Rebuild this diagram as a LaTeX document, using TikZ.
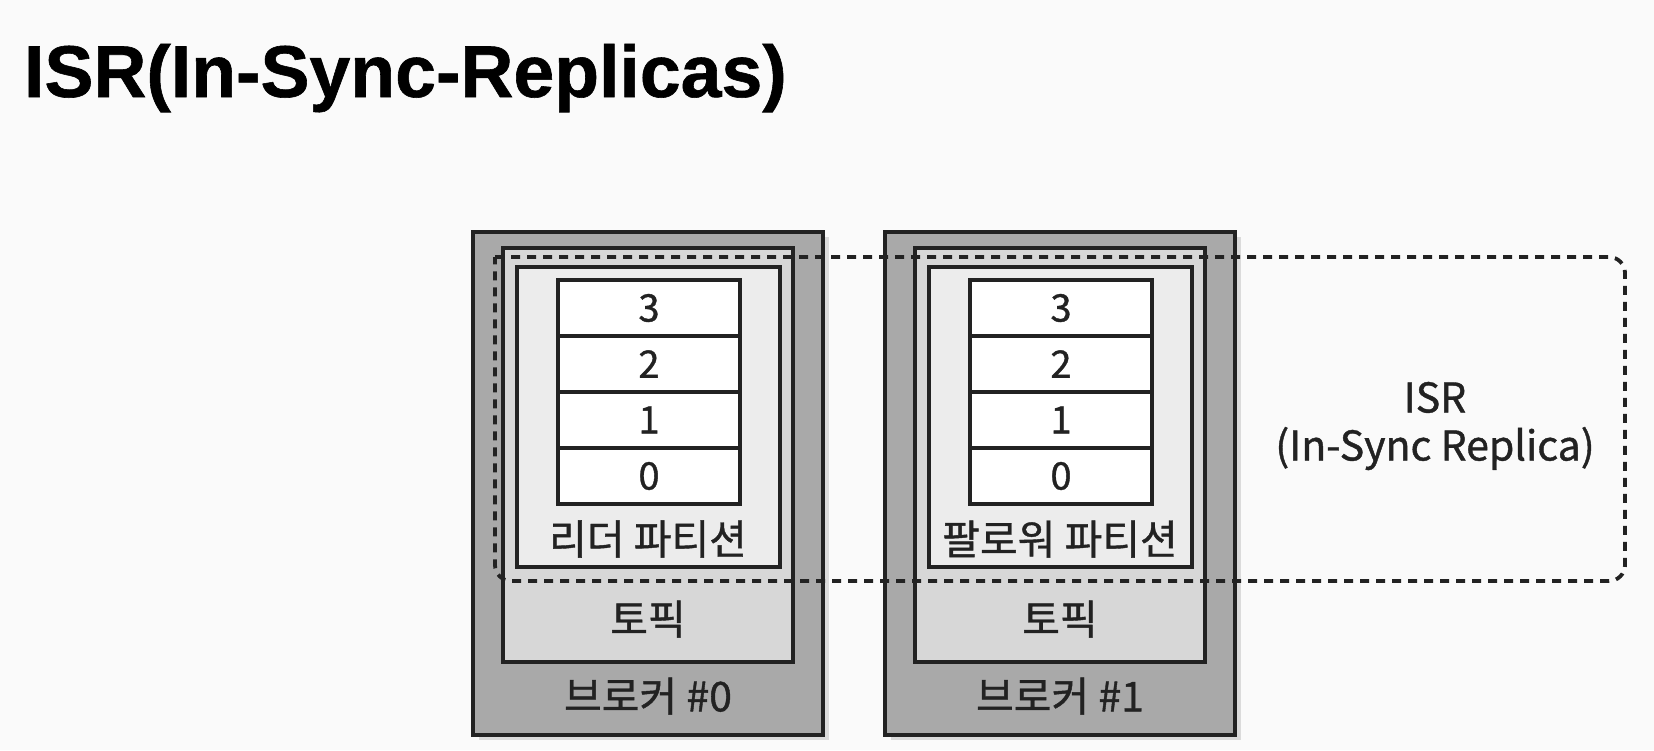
\documentclass[tikz,border=0pt]{standalone}
\usepackage{fontspec}
\setmainfont{Noto Sans CJK KR}
\newfontfamily\diagfont[FakeBold=1.0]{Noto Sans CJK KR}
\newfontfamily\titlefont[FakeBold=0.8]{Liberation Sans}
\usetikzlibrary{positioning, shadows}

\definecolor{brokergray}{HTML}{A9A9A9}
\definecolor{topicgray}{HTML}{D7D7D7}
\definecolor{partgray}{HTML}{ECECEC}
\definecolor{inkgray}{HTML}{222222}
\definecolor{pagebg}{HTML}{FAFAFA}

\begin{document}
\begin{tikzpicture}[
  x=0.5pt, y=-0.5pt,
  box/.style={draw=inkgray, line width=1.8pt, outer sep=0pt, inner sep=0pt},
  broker/.style={box, fill=brokergray, minimum width=175pt, minimum height=251.5pt,
    drop shadow={shadow xshift=3pt, shadow yshift=-2.5pt, opacity=0.25}},
  topic/.style={box, fill=topicgray, minimum width=145pt, minimum height=207pt},
  partition/.style={box, fill=partgray, minimum width=131.5pt, minimum height=150pt},
  cell/.style={box, fill=white, minimum width=91pt, minimum height=28pt,
    font=\diagfont\fontsize{19}{22}\selectfont, text=inkgray},
  caption/.style={font=\diagfont\fontsize{20.5}{24}\selectfont, text=inkgray, align=center},
  isrline/.style={draw=inkgray, line width=1.9pt, dash pattern=on 4.5pt off 3.5pt}
]
\useasboundingbox[fill=pagebg] (0,0) rectangle (1654,750);

% title
\node[anchor=base west, text=black, font=\titlefont\bfseries\fontsize{36.7}{40}\selectfont]
  (title) at (17,97) {ISR(In-Sync-Replicas)};

% brokers
\foreach \b/\role [evaluate=\b as \x using 648+412*\b] in {0/리더, 1/팔로워} {
  \node[broker] (b\b) at (\x,483.5) {};
  \node[topic] (t\b) at (\x,455) {};
  \node[partition] (p\b) at (\x+0.5,417) {};
  \node[cell] (c\b3) at (\x+1,308) {3};
  \node[cell, below=0pt of c\b3] (c\b2) {2};
  \node[cell, below=0pt of c\b2] (c\b1) {1};
  \node[cell, below=0pt of c\b1] (c\b0) {0};
  \node[caption] (pl\b) at (\x,539) {\role\ 파티션};
  \node[caption] (tl\b) at (\x,619) {토픽};
  \node[caption] (bl\b) at (\x,696) {브로커 \#\b};
}

% in-sync replica group
\draw[isrline] (495,257) [rounded corners=8pt] -- (1625,257) -- (1625,581)
  -- (495,581) [sharp corners] -- cycle;
\node[caption] (isr) at (1435,426) {ISR\\(In-Sync Replica)};
\end{tikzpicture}
\end{document}
